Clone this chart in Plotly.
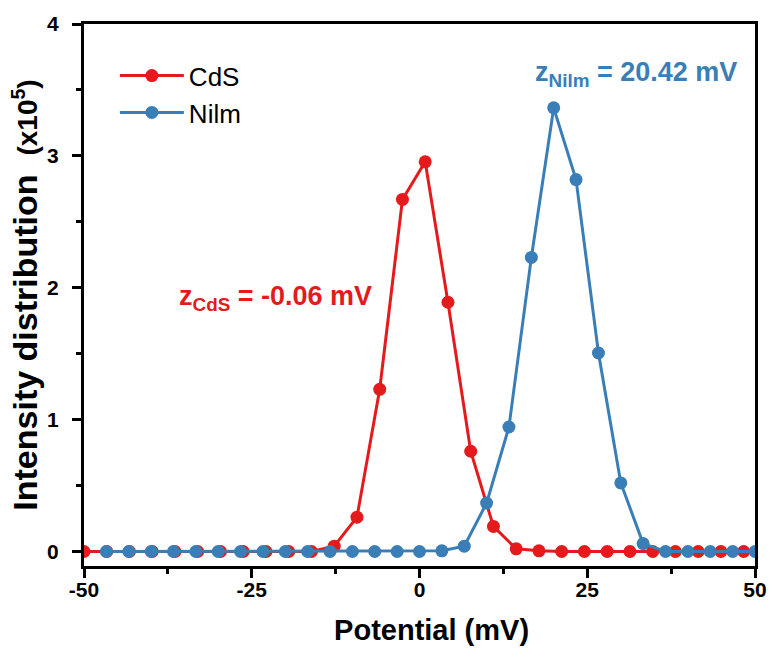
import plotly.graph_objects as go

# Data
cds_x = [-50.0, -46.61, -43.22, -39.83, -36.44, -33.05, -29.66, -26.27, -22.88, -19.49,
         -16.1, -12.71, -9.32, -5.93, -2.54, 0.85, 4.24, 7.63, 11.02, 14.41,
         17.8, 21.19, 24.58, 27.97, 31.36, 34.75, 38.14, 41.53, 44.92, 48.31]
cds_y = [0.0, 0.0, 0.0, 0.0, 0.0, 0.0, 0.0, 0.0, 0.0, 0.0,
         0.0, 0.04, 0.26, 1.23, 2.67, 2.955, 1.89, 0.76, 0.19, 0.02,
         0.005, 0.0, 0.0, 0.0, 0.0, 0.0, 0.0, 0.0, 0.0, 0.0]
nilm_x = [-46.67, -43.33, -40.0, -36.67, -33.33, -30.0, -26.67, -23.33, -20.0, -16.67,
          -13.33, -10.0, -6.67, -3.33, 0.0, 3.33, 6.67, 10.0, 13.33, 16.67,
          20.0, 23.33, 26.67, 30.0, 33.33, 36.67, 40.0, 43.33, 46.67, 50.0]
nilm_y = [0.0, 0.0, 0.0, 0.0, 0.0, 0.0, 0.0, 0.0, 0.0, 0.0,
          0.0, 0.0, 0.0, 0.0, 0.0, 0.005, 0.04, 0.367, 0.944, 2.23,
          3.364, 2.82, 1.505, 0.52, 0.06, 0.0, 0.0, 0.0, 0.0, 0.0]
x_ticks = [-50, -25, 0, 25, 50]
y_ticks = [0, 1, 2, 3, 4]

RED = "#E41A1C"
BLUE = "#3A7EB8"
FONT = "Arial, Liberation Sans, sans-serif"

fig = go.Figure()
fig.add_trace(go.Scatter(x=cds_x, y=cds_y, mode="lines+markers", name="CdS",
                         line=dict(color=RED, width=3),
                         marker=dict(color=RED, size=13)))
fig.add_trace(go.Scatter(x=nilm_x, y=nilm_y, mode="lines+markers", name="Nilm",
                         line=dict(color=BLUE, width=3),
                         marker=dict(color=BLUE, size=13)))

axis_common = dict(showline=True, linecolor="black", linewidth=3, mirror=True,
                   ticks="outside", ticklen=9, tickwidth=2.5, tickcolor="black",
                   showgrid=False, zeroline=False, automargin=False,
                   tickfont=dict(family=FONT, size=21, color="black"),
                   minor=dict(ticks="outside", ticklen=5, tickwidth=2.5, tickcolor="black"))

fig.update_xaxes(range=[-50, 50], tickvals=x_ticks,
                 ticktext=["<b>%d</b>" % v for v in x_ticks],
                 minor_dtick=12.5, minor_tick0=-50,
                 ticklabelstandoff=-6,
                 title=dict(text="&nbsp;&nbsp;&nbsp;<b>Potential (mV)</b>", standoff=20,
                            font=dict(family=FONT, size=29, color="black")),
                 **axis_common)
fig.update_yaxes(range=[-0.11, 4], tickvals=y_ticks,
                 ticktext=["<b>%d</b>" % v for v in y_ticks],
                 minor_dtick=0.5, minor_tick0=0,
                 ticklabelstandoff=9,
                 title=dict(text="<b>Intensity distribution  <span style='font-size:28px'>(x10<sup>5</sup>)</span></b>",
                            standoff=0,
                            font=dict(family=FONT, size=34, color="black")),
                 **axis_common)

fig.add_annotation(x=-21.5, y=1.92, xref="x", yref="y", showarrow=False,
                   text="<b>z<sub>CdS</sub> = -0.06 mV</b>",
                   font=dict(family=FONT, size=27, color=RED))
fig.add_annotation(x=32.3, y=3.62, xref="x", yref="y", showarrow=False,
                   text="<b>z<sub>Nilm</sub> = 20.42 mV</b>",
                   font=dict(family=FONT, size=27, color=BLUE))

fig.update_layout(
    width=772, height=659,
    margin=dict(l=84, r=17, t=24, b=93),
    paper_bgcolor="white", plot_bgcolor="white",
    showlegend=True,
    legend=dict(x=0.046, y=0.948, xanchor="left", yanchor="top",
                bgcolor="rgba(0,0,0,0)", itemwidth=64,
                font=dict(family=FONT, size=26, color="black"),
                tracegroupgap=0),
)

fig.write_html("out.html")
